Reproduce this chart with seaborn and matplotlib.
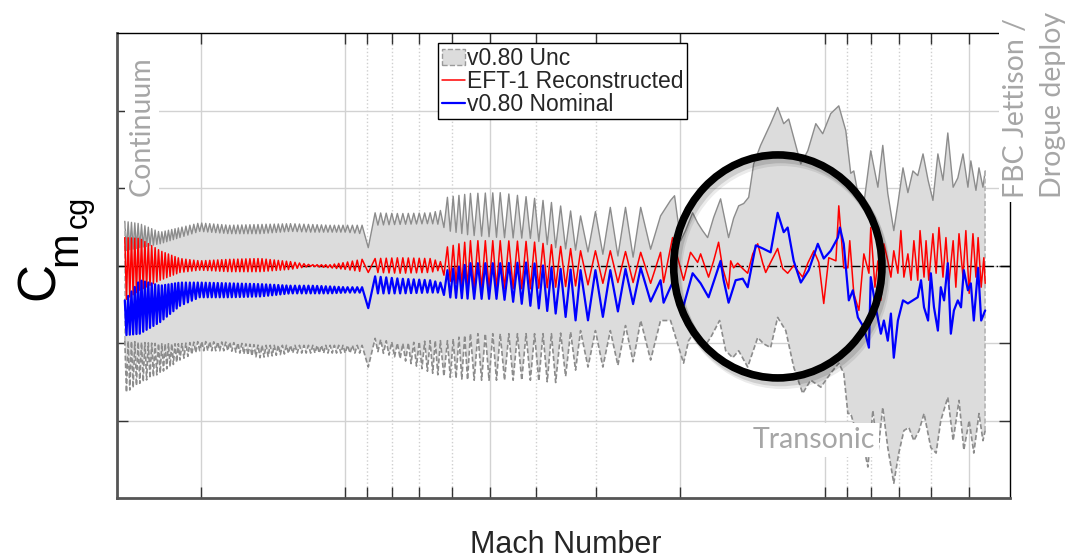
import numpy as np
import pandas as pd
import matplotlib
matplotlib.use("Agg")
import matplotlib.pyplot as plt
import matplotlib.transforms as mtransforms
import seaborn as sns
from matplotlib.patches import Patch, Ellipse
from matplotlib.lines import Line2D
from matplotlib.ticker import FixedLocator, NullFormatter

# Cm_cg vs Mach along the entry trajectory (axis runs from high Mach down to FBC jettison)
# Left part is a dense oscillation: read as envelopes (top / bottom of the swing)
# at Mach knots plus the number of half cycles between knots.
env_mach = [28.8, 26.8, 24.3, 22.1, 20.1, 17.4, 15.05, 13.0, 11.8, 10.75, 10.0, 9.22, 8.95,
            8.66, 7.68, 6.65, 6.33, 6.12, 5.48, 4.75, 4.11, 3.64, 3.23, 2.80, 2.42, 2.20]
half_cycles = [9, 12, 12, 10, 15, 15, 15, 9, 9, 7, 7, 1, 1, 9, 11, 4, 2, 8, 8, 7, 6, 5, 4, 4, 2]

red_top = [0.36, 0.35, 0.19, 0.09, 0.06, 0.08, 0.09, 0.05, 0.01, 0.01, 0.04, 0.08, 0.09,
           0.09, 0.10, 0.09, 0.05, 0.24, 0.32, 0.32, 0.31, 0.26, 0.19, 0.19, 0.17, 0.17]
red_bot = [-0.45, -0.32, -0.19, -0.09, -0.06, -0.08, -0.08, -0.05, -0.01, -0.03, -0.05, -0.08, -0.09,
           -0.09, -0.10, -0.09, -0.06, -0.19, -0.30, -0.30, -0.30, -0.28, -0.26, -0.22, -0.22, -0.24]
blue_top = [-0.45, -0.19, -0.26, -0.22, -0.22, -0.23, -0.24, -0.26, -0.26, -0.27, -0.28, -0.28, -0.39,
            -0.14, -0.17, -0.19, -0.22, -0.06, 0.03, 0.03, 0.04, -0.04, -0.06, -0.06, -0.03, -0.19]
blue_bot = [-0.90, -0.88, -0.73, -0.52, -0.41, -0.41, -0.40, -0.36, -0.36, -0.36, -0.35, -0.35, -0.55,
            -0.36, -0.36, -0.35, -0.35, -0.41, -0.43, -0.43, -0.52, -0.62, -0.73, -0.64, -0.45, -0.48]
unc_hi_top = [0.57, 0.54, 0.43, 0.49, 0.55, 0.52, 0.53, 0.54, 0.53, 0.52, 0.52, 0.52, 0.35,
              0.68, 0.67, 0.68, 0.71, 0.88, 0.93, 0.94, 0.88, 0.80, 0.64, 0.75, 0.75, 0.64]
unc_hi_bot = [0.19, 0.23, 0.28, 0.36, 0.44, 0.41, 0.41, 0.44, 0.43, 0.43, 0.43, 0.41, 0.23,
              0.52, 0.53, 0.54, 0.53, 0.45, 0.39, 0.36, 0.35, 0.23, 0.19, 0.13, 0.10, 0.32]
unc_lo_top = [-0.97, -0.99, -1.01, -1.01, -0.98, -0.99, -1.03, -1.03, -1.03, -1.03, -1.03, -1.03, -1.12,
              -0.94, -1.01, -0.97, -0.97, -0.97, -0.88, -0.88, -0.88, -0.88, -0.84, -0.84, -0.71, -0.71]
unc_lo_bot = [-1.65, -1.52, -1.39, -1.22, -1.10, -1.10, -1.19, -1.13, -1.13, -1.13, -1.13, -1.13, -1.31,
              -1.10, -1.20, -1.38, -1.42, -1.44, -1.48, -1.48, -1.48, -1.51, -1.31, -1.31, -1.22, -1.22]

# Transonic part (Mach < 2.2): read point by point
red_mach_tail = [2.168, 2.077, 1.970, 1.905, 1.841, 1.815, 1.747, 1.705, 1.665, 1.633, 1.587, 1.571,
                 1.549, 1.519, 1.483, 1.448, 1.413, 1.380, 1.347, 1.328, 1.297, 1.254, 1.224, 1.195,
                 1.161, 1.112, 1.085, 1.054, 1.029, 1.005, 0.981, 0.948, 0.935, 0.913, 0.895, 0.887,
                 0.870, 0.849, 0.829, 0.809, 0.802, 0.786, 0.775, 0.764, 0.753, 0.739, 0.728, 0.718,
                 0.704, 0.694, 0.684, 0.671, 0.661, 0.652, 0.640, 0.633, 0.621, 0.615, 0.607, 0.595,
                 0.586, 0.578, 0.567, 0.559, 0.551, 0.540, 0.533, 0.525, 0.515, 0.508, 0.500, 0.491,
                 0.484, 0.479, 0.472, 0.466, 0.463]
red_tail = [-0.22, 0.36, -0.19, 0.17, 0.04, 0.15, -0.15, 0.06, 0.30, -0.03, -0.30, 0.06,
            -0.03, 0.03, -0.04, -0.10, 0.15, 0.28, 0.03, -0.09, 0.04, 0.22, -0.04, -0.10,
            0.00, -0.15, 0.03, 0.19, 0.04, -0.49, 0.10, 0.06, 0.77, -0.03, -0.03, 0.32,
            -0.36, -0.58, 0.15, -0.10, 0.49, -0.28, 0.06, -0.45, 0.28, 0.06, -0.15, 0.19,
            -0.10, 0.45, -0.15, 0.15, -0.19, 0.32, -0.19, 0.45, -0.15, 0.32, -0.19, 0.41,
            -0.10, 0.49, -0.15, 0.36, -0.23, 0.32, -0.28, 0.41, -0.15, 0.45, -0.36, 0.41,
            -0.15, 0.36, -0.28, 0.10, -0.23]

blue_mach_tail = [2.168, 2.067, 2.027, 1.970, 1.886, 1.815, 1.747, 1.649, 1.625, 1.587, 1.534, 1.483,
                  1.448, 1.393, 1.347, 1.297, 1.254, 1.218, 1.195, 1.161, 1.122, 1.080, 1.034, 1.005,
                  0.972, 0.939, 0.930, 0.913, 0.891, 0.874, 0.853, 0.829, 0.809, 0.802, 0.783, 0.764,
                  0.753, 0.739, 0.728, 0.718, 0.704, 0.687, 0.671, 0.655, 0.640, 0.630, 0.621, 0.609,
                  0.601, 0.592, 0.581, 0.573, 0.564, 0.554, 0.546, 0.538, 0.528, 0.520, 0.513, 0.503,
                  0.496, 0.489, 0.479, 0.472, 0.463]
blue_tail = [-0.48, -0.19, -0.32, -0.52, -0.10, -0.23, -0.41, 0.06, -0.19, -0.48, -0.19, -0.17,
             -0.28, 0.26, 0.22, 0.17, 0.68, 0.43, 0.49, 0.06, -0.22, -0.06, 0.28, 0.09,
             0.19, 0.36, 0.49, 0.28, -0.45, -0.32, -0.67, -0.80, -1.06, -0.15, -0.54, -0.88,
             -0.71, -0.97, -0.62, -1.19, -0.71, -0.45, -0.49, -0.45, -0.41, -0.19, -0.54, -0.71,
             -0.10, -0.54, -0.84, -0.28, -0.45, 0.03, -0.88, -0.58, -0.45, -0.54, -0.06, -0.32,
             -0.23, -0.71, -0.03, -0.71, -0.58]

unc_hi_mach_tail = [2.097, 2.057, 1.998, 1.951, 1.886, 1.841, 1.798, 1.755, 1.705, 1.649, 1.587, 1.549,
                    1.512, 1.476, 1.441, 1.407, 1.361, 1.297, 1.254, 1.218, 1.189, 1.161, 1.122, 1.085,
                    1.044, 1.010, 0.972, 0.935, 0.904, 0.883, 0.870, 0.853, 0.829, 0.802, 0.775, 0.757,
                    0.739, 0.718, 0.704, 0.687, 0.671, 0.655, 0.640, 0.624, 0.609, 0.595, 0.581, 0.567,
                    0.554, 0.540, 0.528, 0.515, 0.503, 0.496, 0.484, 0.477, 0.468, 0.463]
unc_hi_tail = [0.84, 0.90, 0.32, 0.45, 0.68, 0.55, 0.45, 0.36, 0.62, 0.86, 0.36, 0.61,
               0.77, 0.80, 0.88, 1.31, 1.55, 1.83, 2.04, 1.83, 1.89, 1.65, 1.31, 1.48,
               1.83, 1.70, 1.96, 2.06, 1.74, 1.19, 1.22, 0.93, 0.80, 1.48, 1.01, 1.55,
               0.93, 0.45, 0.80, 1.26, 0.94, 1.22, 1.16, 1.44, 1.10, 0.84, 1.44, 1.10,
               1.71, 1.01, 1.13, 1.44, 1.01, 1.35, 0.97, 1.26, 1.01, 1.22]

unc_lo_mach_tail = [2.097, 2.027, 1.970, 1.923, 1.859, 1.789, 1.730, 1.657, 1.609, 1.556, 1.512, 1.448,
                    1.380, 1.341, 1.297, 1.254, 1.206, 1.161, 1.112, 1.070, 1.019, 0.972, 0.935, 0.913,
                    0.895, 0.883, 0.853, 0.829, 0.813, 0.794, 0.775, 0.757, 0.739, 0.718, 0.701, 0.684,
                    0.668, 0.652, 0.636, 0.621, 0.601, 0.586, 0.573, 0.554, 0.540, 0.525, 0.513, 0.500,
                    0.489, 0.477, 0.468, 0.463]
unc_lo_tail = [-0.71, -1.01, -1.26, -0.97, -0.84, -1.06, -0.93, -0.71, -1.10, -1.19, -1.10, -1.31,
               -0.93, -1.01, -1.06, -0.67, -0.84, -1.31, -1.65, -1.48, -1.57, -1.39, -1.26, -1.39,
               -1.91, -1.91, -2.22, -2.35, -2.60, -1.87, -2.42, -1.83, -2.35, -2.81, -2.42, -2.13,
               -2.09, -2.26, -2.13, -1.91, -2.35, -2.42, -2.00, -1.70, -2.26, -1.74, -2.38, -2.00,
               -2.42, -1.91, -2.26, -2.13]

x_major = [20, 10, 5, 2, 1, 0.5]
x_minor = [9, 8, 7, 6, 4, 3, 0.9, 0.8, 0.7, 0.6]
y_ticks = [-2, -1, 0, 1, 2]


def trace(top, bot, tail_mach, tail_val):
    # one extreme per half cycle, alternating between the read top and bottom envelopes
    lk = np.log10(env_mach)
    xs, ys = [env_mach[0]], [top[0]]
    j = 0
    for i, n in enumerate(half_cycles):
        for k in range(1, n + 1):
            t = k / n
            j += 1
            env = bot if j % 2 else top
            xs.append(10 ** (lk[i] + t * (lk[i + 1] - lk[i])))
            ys.append(env[i] + t * (env[i + 1] - env[i]))
    return pd.DataFrame({"Mach": xs + list(tail_mach), "Cm": ys + list(tail_val)})


red = trace(red_top, red_bot, red_mach_tail, red_tail)
blue = trace(blue_top, blue_bot, blue_mach_tail, blue_tail)
unc_hi = trace(unc_hi_top, unc_hi_bot, unc_hi_mach_tail, unc_hi_tail)
unc_lo = trace(unc_lo_top, unc_lo_bot, unc_lo_mach_tail, unc_lo_tail)

sns.set_theme(style="white")
plt.rcParams["font.family"] = ["Liberation Sans", "DejaVu Sans"]

fig = plt.figure(figsize=(10.75, 5.6), dpi=100)
ax = fig.add_axes([117 / 1075, 62 / 560, 893 / 1075, 465 / 560])
ax.set_xscale("log")

grey = "#dcdcdc"
ax.fill(np.r_[unc_hi["Mach"], unc_lo["Mach"][::-1]], np.r_[unc_hi["Cm"], unc_lo["Cm"][::-1]],
        color=grey, lw=0, zorder=1)
sns.lineplot(data=unc_hi, x="Mach", y="Cm", ax=ax, color="#8c8c8c", lw=1.0,
             estimator=None, sort=False, zorder=2)
sns.lineplot(data=unc_lo, x="Mach", y="Cm", ax=ax, color="#8c8c8c", lw=1.2, linestyle=(0, (3, 1.5)),
             estimator=None, sort=False, zorder=2)
for i in (0, -1):
    ax.plot([unc_lo["Mach"].iloc[i]] * 2, [unc_lo["Cm"].iloc[i], unc_hi["Cm"].iloc[i]],
            color="#b4b4b4", lw=1.2, ls=(0, (3, 1.5)), zorder=2)

ax.axhline(0, color="black", lw=1, ls=(0, (7, 2, 1, 2)), zorder=2.5)
sns.lineplot(data=red, x="Mach", y="Cm", ax=ax, color="#ff0000", lw=1.1,
             estimator=None, sort=False, zorder=3)
sns.lineplot(data=blue, x="Mach", y="Cm", ax=ax, color="#0000ff", lw=1.6,
             estimator=None, sort=False, zorder=4)

ax.set_xlim(29.9, 0.411)
ax.set_ylim(-3, 3)
ax.xaxis.set_major_locator(FixedLocator(x_major))
ax.xaxis.set_minor_locator(FixedLocator(x_minor))
ax.xaxis.set_major_formatter(NullFormatter())
ax.xaxis.set_minor_formatter(NullFormatter())
ax.yaxis.set_major_locator(FixedLocator(y_ticks))
ax.yaxis.set_major_formatter(NullFormatter())
ax.set_xlabel("")
ax.set_ylabel("")
ax.tick_params(which="both", direction="in", length=8, width=1, color="#333333",
               top=True, right=True, bottom=True, left=True)
ax.set_axisbelow(True)
ax.grid(which="major", color="#d2d2d2", lw=1, ls="-")
ax.grid(which="minor", axis="x", color="#cfcfcf", lw=1, ls=":")
for s in ("left", "bottom"):
    ax.spines[s].set_color("#555555")
    ax.spines[s].set_linewidth(2)
for s in ("top", "right"):
    ax.spines[s].set_color("black")
    ax.spines[s].set_linewidth(1)

# highlight ring with a soft drop shadow
for dx, dy, a in ((2, -3, 0.12), (3, -5, 0.08)):
    tr = ax.transAxes + mtransforms.ScaledTranslation(dx / 72, dy / 72, fig.dpi_scale_trans)
    ax.add_patch(Ellipse((0.740, 0.498), 0.2332, 0.4796, transform=tr, fill=False,
                         lw=6, ec=(0, 0, 0, a), zorder=5.5, clip_on=False))
ax.add_patch(Ellipse((0.740, 0.498), 0.2332, 0.4796, transform=ax.transAxes, fill=False,
                     lw=5.5, ec="black", zorder=6, clip_on=False))

handles = [Patch(facecolor=grey, edgecolor="#9a9a9a", linestyle="--", lw=1),
           Line2D([], [], color="#ff0000", lw=1.1),
           Line2D([], [], color="#0000ff", lw=1.6)]
labels = ["v0.80 Unc", "EFT-1 Reconstructed", "v0.80 Nominal"]
leg = ax.legend(handles, labels, loc="upper left", bbox_to_anchor=(0.360, 0.978), fontsize=16.5,
                frameon=True, fancybox=False, framealpha=1, edgecolor="black", borderpad=0.15,
                labelspacing=0.0, handlelength=1.0, handletextpad=0.1, borderaxespad=0)
leg.get_frame().set_linewidth(1)
leg.set_zorder(7)

note = dict(color="#a6a6a6", fontsize=20.5, family=["Lato", "DejaVu Sans"])
box = dict(facecolor="white", edgecolor="none", pad=3)
fig.text(142 / 1075, 1 - 126 / 560, "Continuum", rotation=90, ha="center", va="center", bbox=box, **note)
fig.text(814 / 1075, 1 - 440 / 560, "Transonic", ha="center", va="center", bbox=box, **note)
fig.text(1003 / 1075, 1 - 198 / 560, "FBC Jettison /\nDrogue deploy", rotation=90, ha="left",
         va="bottom", multialignment="left", linespacing=1.5, bbox=box, **note)

fig.text(566 / 1075, 1 - 545 / 560, "Mach Number", ha="center", va="center", fontsize=22)

# C with stacked subscripts m, cg (rotated, baseline-anchored)
ylab = dict(rotation=90, rotation_mode="anchor", ha="left", va="baseline", color="black")
fig.text(54 / 1075, 1 - 300 / 560, "C", fontsize=38, **ylab)
fig.text(76 / 1075, 1 - 266 / 560, "m", fontsize=30, **ylab)
fig.text(87 / 1075, 1 - 228 / 560, "cg", fontsize=22, **ylab)

fig.savefig("out.png", dpi=100)
